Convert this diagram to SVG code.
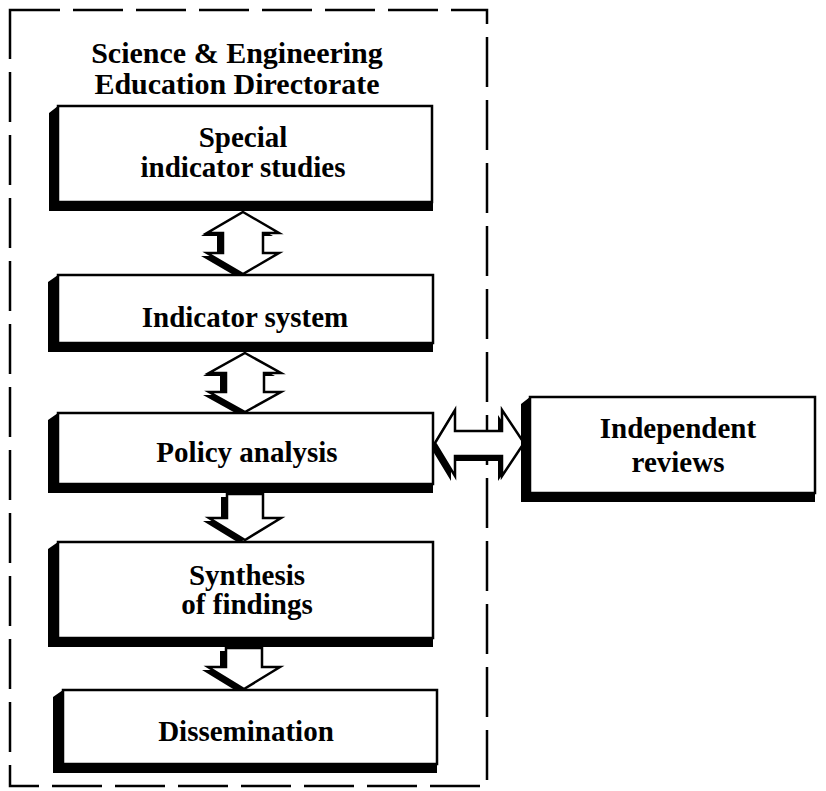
<svg xmlns="http://www.w3.org/2000/svg" width="826" height="791" viewBox="0 0 826 791">
  <style>
    .lbl { font-family: "Liberation Serif", "Times New Roman", serif; font-weight: bold; font-size: 29px; fill: #000; text-anchor: middle; }
    .title { font-size: 30px; }
    .face { fill: #fff; stroke: #000; stroke-width: 2.5; }
    .shade { fill: #000; }
    .frame { fill: none; stroke: #000; stroke-width: 2.5; stroke-dasharray: 50 13; }
    .arrow { fill: #fff; stroke: #000; stroke-width: 2.5; stroke-linejoin: miter; }
  </style>
  <rect width="826" height="791" fill="#fff"/>

  <!-- directorate boundary -->
  <g id="directorate">
    <rect class="frame" x="10" y="10" width="477" height="776"/>
    <text class="lbl title" x="237" y="63">Science &amp; Engineering</text>
    <text class="lbl title" x="237" y="94">Education Directorate</text>
  </g>

  <!-- connectors: block arrows with drop shadow -->
  <g id="connectors">
    <g id="arrow-special-indicator">
      <polygon class="shade" transform="translate(-6,3)" points="243,212 279,233 263,233 263,253 279,253 243,274 207,253 223,253 223,233 207,233"/>
      <polygon class="arrow" points="243,212 279,233 263,233 263,253 279,253 243,274 207,253 223,253 223,233 207,233"/>
    </g>
    <g id="arrow-indicator-policy">
      <polygon class="shade" transform="translate(-6,3)" points="245,353 281,373 264,373 264,392 281,392 245,412 209,392 226,392 226,373 209,373"/>
      <polygon class="arrow" points="245,353 281,373 264,373 264,392 281,392 245,412 209,392 226,392 226,373 209,373"/>
    </g>
    <g id="arrow-policy-synthesis">
      <polygon class="shade" transform="translate(-6,3)" points="227,494 263,494 263,518 281,518 245,540 209,518 227,518"/>
      <polygon class="arrow" points="227,494 263,494 263,518 281,518 245,540 209,518 227,518"/>
    </g>
    <g id="arrow-synthesis-dissemination">
      <polygon class="shade" transform="translate(-6,3)" points="226,648 262,648 262,667 280,667 244,689 208,667 226,667"/>
      <polygon class="arrow" points="226,648 262,648 262,667 280,667 244,689 208,667 226,667"/>
    </g>
    <g id="arrow-policy-reviews">
      <polygon class="shade" transform="translate(-4,5)" points="435,443 455,410 455,431 502,431 502,410 524,443 502,476 502,456 455,456 455,476"/>
      <polygon class="arrow" points="435,443 455,410 455,431 502,431 502,410 524,443 502,476 502,456 455,456 455,476"/>
    </g>
  </g>

  <!-- nodes -->
  <g id="special-indicator-studies">
    <polygon class="shade" points="58,106 49,113 49,211 433,211 433,202 58,202"/>
    <rect class="face" x="58" y="106" width="374" height="96"/>
    <text class="lbl" x="243" y="147">Special</text>
    <text class="lbl" x="243" y="177">indicator studies</text>
  </g>

  <g id="indicator-system">
    <polygon class="shade" points="58,275 48,282 48,352 433,352 433,343 58,343"/>
    <rect class="face" x="58" y="275" width="375" height="68"/>
    <text class="lbl" x="245" y="327">Indicator system</text>
  </g>

  <g id="policy-analysis">
    <polygon class="shade" points="58,413 48,420 48,493 433,493 433,484 58,484"/>
    <rect class="face" x="58" y="413" width="375" height="71"/>
    <text class="lbl" x="247" y="462">Policy analysis</text>
  </g>

  <g id="independent-reviews">
    <polygon class="shade" points="530,397 521,404 521,502 815,502 815,493 530,493"/>
    <rect class="face" x="530" y="397" width="285" height="96"/>
    <text class="lbl" x="678" y="438">Independent</text>
    <text class="lbl" x="678" y="472">reviews</text>
  </g>

  <g id="synthesis-of-findings">
    <polygon class="shade" points="58,542 48,549 48,647 433,647 433,638 58,638"/>
    <rect class="face" x="58" y="542" width="375" height="96"/>
    <text class="lbl" x="247" y="585">Synthesis</text>
    <text class="lbl" x="247" y="614">of findings</text>
  </g>

  <g id="dissemination">
    <polygon class="shade" points="63,690 53,697 53,773 437,773 437,764 63,764"/>
    <rect class="face" x="63" y="690" width="374" height="74"/>
    <text class="lbl" x="246" y="741">Dissemination</text>
  </g>
</svg>
